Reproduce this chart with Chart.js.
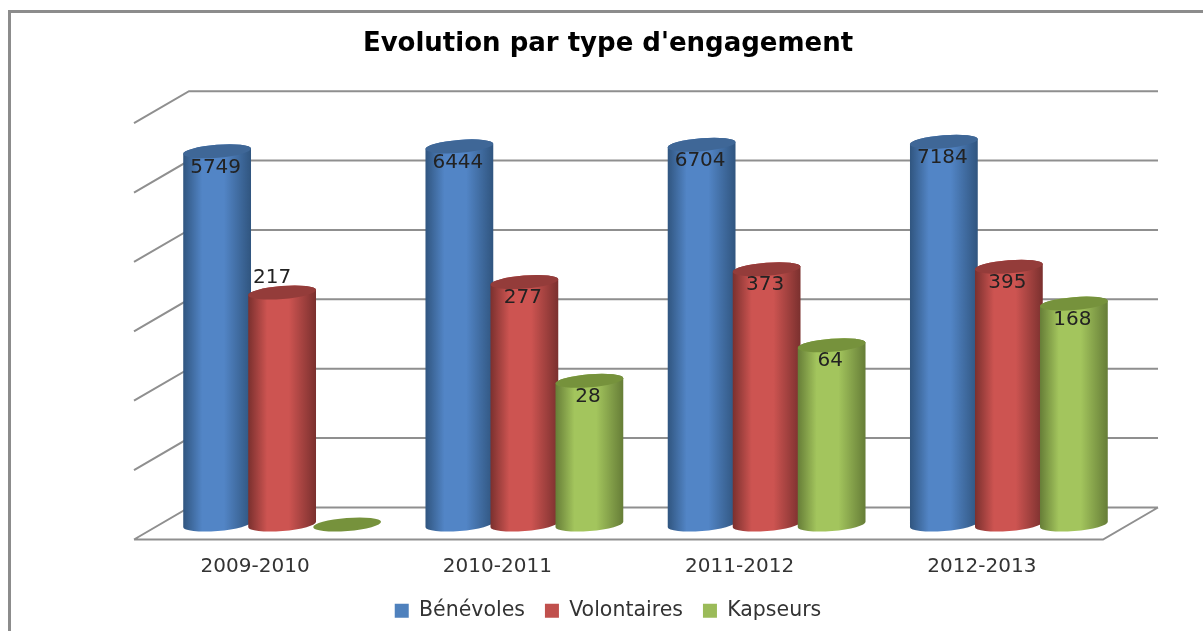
<!DOCTYPE html>
<html>
<head>
<meta charset="utf-8">
<style>
    html, body { margin: 0; height: 100%; overflow: hidden; background: #fff; }
    #frame { position: absolute; left: 8px; top: 10px; width: 1300px; height: 700px; border: 3px solid #8c8c8c; box-sizing: border-box; }
    #growth { position: absolute; left: 0; top: 0; width: 1197px; height: 618px; filter: blur(0.4px); }
</style>
<script src="https://cdn.jsdelivr.net/npm/chart.js@4/dist/chart.umd.js"></script>
</head>
<body>
<div id="frame"><div id="growth"><canvas id="chart" width="1197" height="618"></canvas></div></div>
<script>
var categories = ["2009-2010", "2010-2011", "2011-2012", "2012-2013"];
var benevoles = [5749, 6444, 6704, 7184];
var volontaires = [217, 277, 373, 395];
var kapseurs = [1, 28, 64, 168];
var tickValues = [1, 5, 25, 125, 625, 3125, 15625];

// profondeur de la pseudo 3D
var DEPTH_X = 55, DEPTH_Y = -32, BAR_DX = 27, BAR_DY = -15;

var shades = {
    "#4f81bd": { edge: "#30557f", mid: "#5285c6", cap: "#3f6797" },
    "#c0504d": { edge: "#7a302e", mid: "#cd5451", cap: "#943c3a" },
    "#9bbb59": { edge: "#667d37", mid: "#a3c55d", cap: "#76923c" }
};

// cylindre a la place du rectangle
Chart.elements.BarElement.prototype.draw = function (ctx) {
    var x = this.x + BAR_DX, top = this.y + BAR_DY, base = this.base + BAR_DY;
    var rx = this.width / 2, ry = 6.5, tilt = -0.08;
    var c = shades[this.options.backgroundColor];
    ctx.save();
    if (base - top > 0.5) {
        var g = ctx.createLinearGradient(x - rx, 0, x + rx, 0);
        g.addColorStop(0, c.edge);
        g.addColorStop(0.28, c.mid);
        g.addColorStop(0.6, c.mid);
        g.addColorStop(1, c.edge);
        ctx.fillStyle = g;
        ctx.beginPath();
        ctx.ellipse(x, base, rx, ry, tilt, 0, Math.PI);
        ctx.ellipse(x, top, rx, ry, tilt, Math.PI, Math.PI * 2);
        ctx.closePath();
        ctx.fill();
    }
    ctx.fillStyle = c.cap;
    ctx.beginPath();
    ctx.ellipse(x, top, rx, ry, tilt, 0, Math.PI * 2);
    ctx.fill();
    ctx.restore();
};

var walls = {
    id: "walls",
    beforeDatasetsDraw: function (chart) {
        var ctx = chart.ctx, a = chart.chartArea, y = chart.scales.y;
        ctx.save();
        ctx.strokeStyle = "#8f8f8f";
        ctx.lineWidth = 2;
        ctx.beginPath();
        tickValues.forEach(function (v) {
            var py = y.getPixelForValue(v);
            ctx.moveTo(a.left, py);
            ctx.lineTo(a.left + DEPTH_X, py + DEPTH_Y);
            ctx.lineTo(a.right + DEPTH_X, py + DEPTH_Y);
        });
        // plancher
        ctx.moveTo(a.left, a.bottom);
        ctx.lineTo(a.right, a.bottom);
        ctx.lineTo(a.right + DEPTH_X, a.bottom + DEPTH_Y);
        ctx.stroke();
        ctx.restore();
    }
};

// Chart.js dessine le premier dataset au dessus, ici il faut l'inverse
var cylinders = {
    id: "cylinders",
    beforeDatasetDraw: function () {
        return false;
    },
    afterDatasetsDraw: function (chart) {
        var ctx = chart.ctx;
        chart.data.datasets.forEach(function (ds, i) {
            chart.getDatasetMeta(i).data.forEach(function (el) {
                el.draw(ctx);
            });
        });
        ctx.save();
        ctx.font = "20px 'DejaVu Sans'";
        ctx.fillStyle = "#222";
        ctx.textAlign = "center";
        ctx.textBaseline = "middle";
        chart.data.datasets.forEach(function (ds, i) {
            chart.getDatasetMeta(i).data.forEach(function (el, j) {
                var v = ds.data[j];
                if (v <= 1) return;
                // 217 est au dessus du cylindre dans l'original
                if (v === 217) {
                    ctx.fillText(v, el.x + BAR_DX - 10, el.y + BAR_DY - 15);
                } else {
                    ctx.fillText(v, el.x + BAR_DX - 1.5, el.y + BAR_DY + 16);
                }
            });
        });
        ctx.restore();
    }
};

new Chart(document.getElementById("chart"), {
    type: "bar",
    data: {
        labels: categories,
        datasets: [
            { label: "Bénévoles", data: benevoles, backgroundColor: "#4f81bd" },
            { label: "Volontaires", data: volontaires, backgroundColor: "#c0504d" },
            { label: "Kapseurs", data: kapseurs, backgroundColor: "#9bbb59" }
        ]
    },
    options: {
        responsive: false,
        animation: false,
        categoryPercentage: 0.805,
        barPercentage: 1.046,
        // padding gauche/droite pour centrer titre et legende comme l'original
        layout: { padding: { left: 102, right: 105, top: 0, bottom: 0 } },
        scales: {
            x: {
                grid: { display: false },
                border: { display: false },
                ticks: { color: "#333", font: { family: "DejaVu Sans", size: 20 }, padding: 7, maxRotation: 0 },
                afterFit: function (s) { s.height = 41; }
            },
            y: {
                type: "logarithmic",
                min: 1,
                max: 15625,
                grid: { display: false },
                border: { display: false },
                afterBuildTicks: function (s) {
                    s.ticks = tickValues.map(function (v) { return { value: v, major: true }; });
                },
                ticks: {
                    color: "#333",
                    font: { family: "DejaVu Sans", size: 20 },
                    padding: 17,
                    labelOffset: 3,
                    autoSkip: false,
                    callback: function (v) { return v; }
                },
                afterFit: function (s) { s.width = 21; }
            }
        },
        plugins: {
            title: {
                display: true,
                text: "Evolution par type d'engagement",
                color: "#000",
                font: { family: "DejaVu Sans", size: 26, weight: "bold" },
                padding: { top: 16, bottom: 63 }
            },
            legend: {
                position: "bottom",
                labels: {
                    color: "#333",
                    font: { family: "DejaVu Sans", size: 20.5 },
                    boxWidth: 14,
                    boxHeight: 14,
                    padding: 20
                }
            },
            tooltip: { enabled: false }
        }
    },
    plugins: [walls, cylinders]
});
</script>
</body>
</html>
